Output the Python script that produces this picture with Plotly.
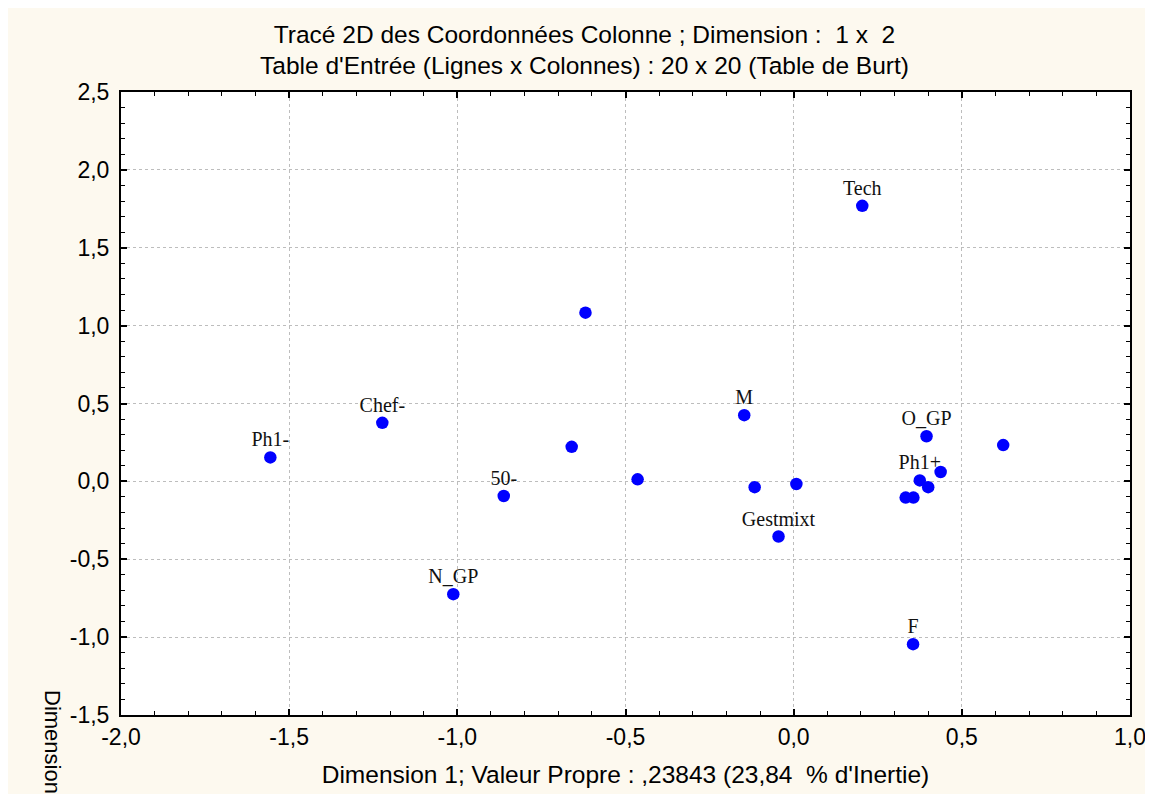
import plotly.graph_objects as go

# Column coordinates (Dimension 1, Dimension 2)
labels = ["Ph1-", "Chef-", "50-", "N_GP", "", "", "", "M", "", "",
          "Gestmixt", "Tech", "O_GP", "", "", "Ph1+", "", "", "", "F"]
dim1 = [-1.556, -1.223, -0.862, -1.012, -0.619, -0.660, -0.464, -0.147, -0.116, 0.008,
        -0.045, 0.204, 0.395, 0.623, 0.437, 0.375, 0.400, 0.333, 0.356, 0.355]
dim2 = [0.154, 0.376, -0.094, -0.724, 1.083, 0.222, 0.013, 0.425, -0.037, -0.017,
        -0.354, 1.769, 0.290, 0.233, 0.060, 0.006, -0.037, -0.104, -0.104, -1.045]

x_tickvals = [-2.0, -1.5, -1.0, -0.5, 0.0, 0.5, 1.0]
x_ticktext = ["-2,0", "-1,5", "-1,0", "-0,5", "0,0", "0,5", "1,0"]
y_tickvals = [-1.5, -1.0, -0.5, 0.0, 0.5, 1.0, 1.5, 2.0, 2.5]
y_ticktext = ["-1,5", "-1,0", "-0,5", "0,0", "0,5", "1,0", "1,5", "2,0", "2,5"]

title_lines = ["Tracé 2D des Coordonnées Colonne ; Dimension :  1 x  2",
               "Table d'Entrée (Lignes x Colonnes) : 20 x 20 (Table de Burt)"]
x_title = "Dimension 1; Valeur Propre : ,23843 (23,84  % d'Inertie)"
y_title = "Dimension 2"

W, H = 1153, 794
L, R, T, B = 113, 31, 83.5, 87
pw, ph = W - L - R, H - T - B

SANS = "Liberation Sans, Arial, sans-serif"
SERIF = "Liberation Serif, Times New Roman, serif"

fig = go.Figure()
# label layer (drawn under markers)
fig.add_trace(go.Scatter(
    x=dim1, y=dim2, mode="markers+text", text=labels, textposition="top center",
    marker=dict(size=8, opacity=0), cliponaxis=False,
    textfont=dict(family=SERIF, size=20, color="#111111"),
    hoverinfo="skip", showlegend=False))
fig.add_trace(go.Scatter(
    x=dim1, y=dim2, mode="markers",
    marker=dict(size=12.5, color="#0000FF", line=dict(width=0)),
    showlegend=False))

axis_common = dict(
    showline=True, linecolor="black", linewidth=2, mirror="ticks",
    ticks="inside", ticklen=6, tickwidth=1.5, tickcolor="black",
    showgrid=True, gridcolor="#BDBDBD", griddash="dot", gridwidth=1,
    zeroline=False,
    tickfont=dict(family=SANS, size=23, color="black"),
    minor=dict(ticks="inside", ticklen=4, tickwidth=1.2, tickcolor="black", dtick=0.1, showgrid=False),
)

fig.update_xaxes(range=[-2.0, 1.0], tickvals=x_tickvals, ticktext=x_ticktext,
                 title=dict(text=x_title.replace("  ", "\u00a0\u00a0"), standoff=17,
                            font=dict(family=SANS, size=24.5, color="black")),
                 **axis_common)
fig.update_yaxes(range=[-1.5, 2.5], tickvals=y_tickvals, ticktext=y_ticktext,
                 ticklabelstandoff=5, **axis_common)

fig.update_layout(
    width=W, height=H,
    margin=dict(l=L, r=R, t=T, b=B, autoexpand=False),
    paper_bgcolor="#FDF9EF", plot_bgcolor="white",
    title=dict(text="<br>".join(s.replace("  ", "\u00a0\u00a0") for s in title_lines),
               x=0.5, xanchor="center", y=1 - 34.5 / H, yanchor="middle",
               font=dict(family=SANS, size=24.5, color="black")),
    annotations=[dict(text=y_title, textangle=90, xref="paper", yref="paper",
                      x=(45 - L) / pw, y=(H - B - 680) / ph, xanchor="center", yanchor="top",
                      showarrow=False,
                      font=dict(family=SANS, size=22, color="black"))],
)

fig.write_html("out.html")
